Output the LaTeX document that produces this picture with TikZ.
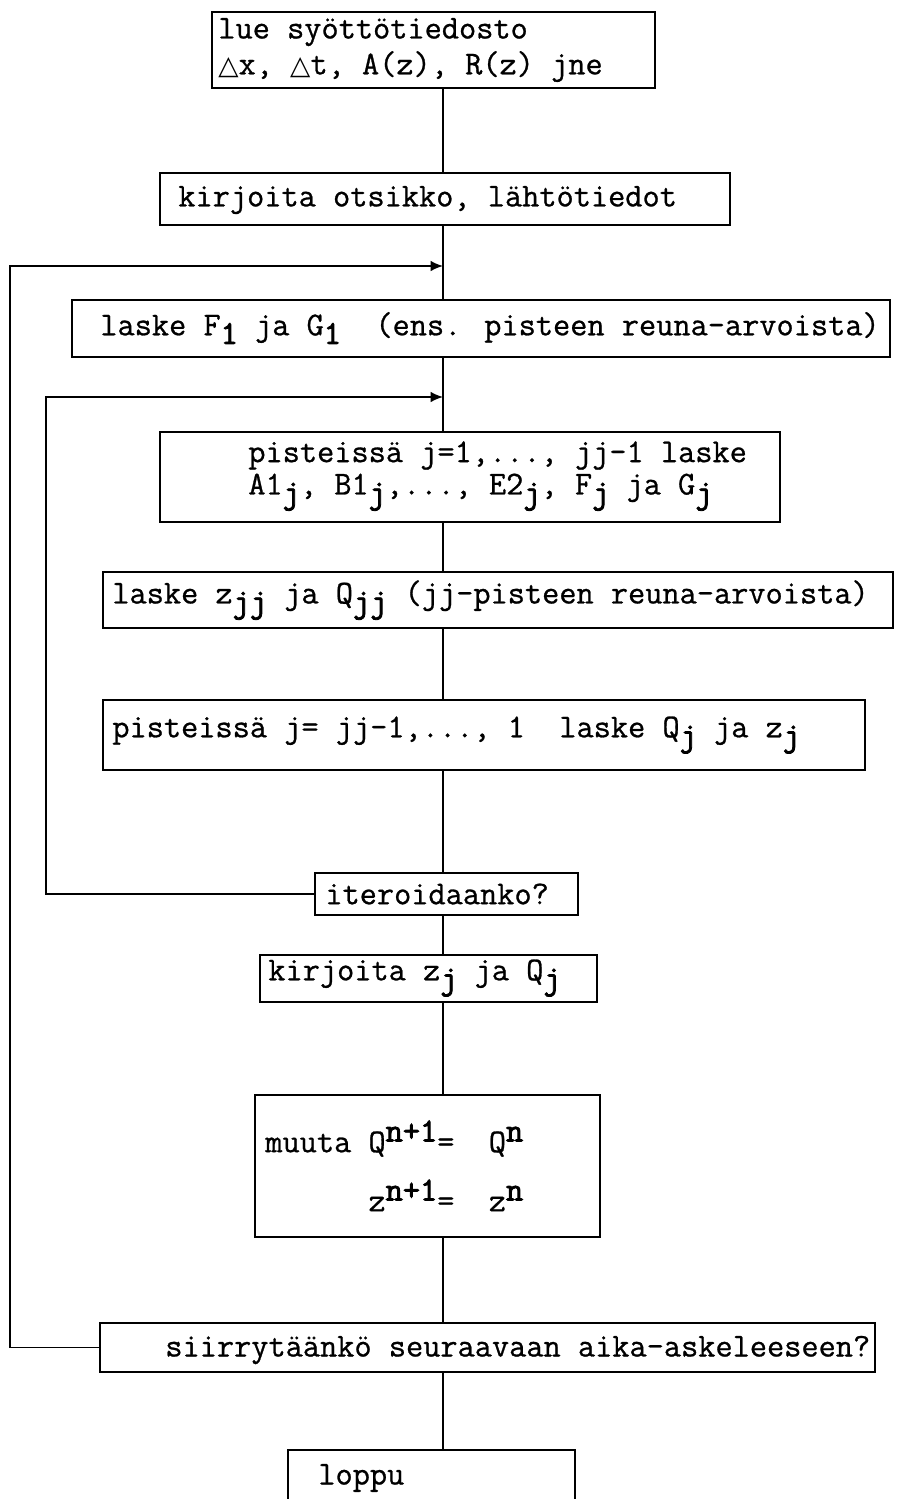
\documentclass[tikz,border=0pt]{standalone}
\usepackage{fontspec}
\setmainfont{Latin Modern Mono}[FakeBold=0.8, AutoFakeBold=2.5]
\newfontfamily\symfont{DejaVu Sans}
\usetikzlibrary{positioning,arrows.meta}

\newcommand{\lowr}[1]{\raisebox{-0.6ex}{\textbf{#1}}}
\newcommand{\highr}[1]{\raisebox{0.75ex}{\textbf{#1}}}
\newcommand{\tri}{{\symfont\fontsize{15}{18}\selectfont △}}

\tikzset{
  box/.style 2 args={draw, line width=0.9pt, rectangle, inner sep=0pt,
    minimum width=#1*0.2mm, minimum height=#2*0.2mm},
  txt/.style={anchor=west, align=left, inner sep=0pt,
    font=\fontsize{19}{20.4}\selectfont},
  flow/.style={line width=1pt},
  back/.style={line width=1pt, -{Latex[length=7pt,width=6pt]}}
}

\begin{document}
\begin{tikzpicture}[x=0.02cm, y=-0.02cm]
\path[use as bounding box, clip] (0,0) rectangle (899,1499);
\fill[white] (0,0) rectangle (899,1499);

% laatikot
\node[box={443}{76}]  (b1)  at (433.5,50)   {};
\node[box={570}{52}]  (b2)  at (445,199)    {};
\node[box={818}{57}]  (b3)  at (481,328.5)  {};
\node[box={620}{90}]  (b4)  at (470,477)    {};
\node[box={790}{56}]  (b5)  at (498,600)    {};
\node[box={762}{70}]  (b6)  at (484,735)    {};
\node[box={263}{42}]  (b7)  at (446.5,894)  {};
\node[box={337}{47}]  (b8)  at (428.5,978.5) {};
\node[box={345}{142}] (b9)  at (427.5,1166) {};
\node[box={775}{49}]  (b10) at (487.5,1347.5) {};
\node[box={287}{70}]  (b11) at (431.5,1485) {};

% tekstit
\node[txt] (t1) at (218,50) {lue syöttötiedosto\\\tri x, \tri t, A(z), R(z) jne};
\node[txt] (t2) at (178,200) {kirjoita otsikko, lähtötiedot};
\node[txt] (t3) at (100,328) {laske F\lowr{1} ja G\lowr{1}~~(ens. pisteen reuna-arvoista)};
\node[txt] (t4) at (248,476) {pisteissä j=1,..., jj-1 laske\\[-2pt]
  A1\lowr{j}, B1\lowr{j},..., E2\lowr{j}, F\lowr{j} ja G\lowr{j}};
\node[txt] (t5) at (112,600) {laske z\lowr{jj} ja Q\lowr{jj} (jj-pisteen reuna-arvoista)};
\node[txt] (t6) at (112,735) {pisteissä j= jj-1,..., 1~~laske Q\lowr{j} ja z\lowr{j}};
\node[txt] (t7) at (325,894) {iteroidaanko?};
\node[txt] (t8) at (268,978) {kirjoita z\lowr{j} ja Q\lowr{j}};
\node[txt] (t9) at (265,1166) {muuta Q\highr{n+1}=~~Q\highr{n}\\[12pt]
  \phantom{muuta }z\highr{n+1}=~~z\highr{n}};
\node[txt] (t10) at (165,1350) {siirrytäänkö seuraavaan aika-askeleeseen?};
\node[txt] (t11) at (318,1478) {loppu};

% pystyviiva ja silmukat
\coordinate (col) at (443,0);
\coordinate (j1) at (443,266);
\coordinate (j2) at (443,397);
\coordinate (lp1) at (10,266);
\coordinate (lp2) at (46,397);

\draw[flow] (b1.south -| col) -- (b2.north -| col);
\draw[flow] (b2.south -| col) -- (b3.north -| col);
\draw[flow] (b3.south -| col) -- (b4.north -| col);
\draw[flow] (b4.south -| col) -- (b5.north -| col);
\draw[flow] (b5.south -| col) -- (b6.north -| col);
\draw[flow] (b6.south -| col) -- (b7.north -| col);
\draw[flow] (b7.south -| col) -- (b8.north -| col);
\draw[flow] (b8.south -| col) -- (b9.north -| col);
\draw[flow] (b9.south -| col) -- (b10.north -| col);
\draw[flow] (b10.south -| col) -- (b11.north -| col);

\draw[back] (b10.west) -| (lp1) -- (j1);
\draw[back] (b7.west) -| (lp2) -- (j2);
\end{tikzpicture}
\end{document}
